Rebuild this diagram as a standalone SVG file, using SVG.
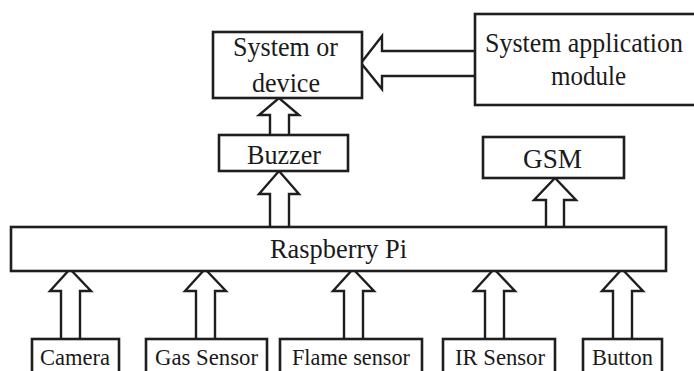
<svg xmlns="http://www.w3.org/2000/svg" width="694" height="371" viewBox="0 0 694 371">
<style>
.box{fill:#fff;stroke:#1e1e1e;stroke-width:2.6}
.arr{fill:#fff;stroke:#1e1e1e;stroke-width:2.4;stroke-linejoin:miter}
.t{font-family:"Liberation Serif","Times New Roman",serif;fill:#1a1a1a}
.big{font-size:28px}
.sm{font-size:24px}
</style>
<rect width="694" height="371" fill="#fff"/>
<g id="connectors">
<path class="arr" d="M475,51 H382 V36 L361,63 L382,89 V76 H475"/>
<path class="arr" d="M270,135 V115 H259 L279,98 L299,115 H289 V135"/>
<path class="arr" d="M270,227 V194 H259 L279,171 L299,194 H289 V227"/>
<path class="arr" d="M546,227 V200 H534 L555,178 L576,200 H564 V227"/>
<path class="arr" d="M61,339 V291 H50 L70,269 L91,291 H80 V339"/>
<path class="arr" d="M196,339 V291 H185 L205,269 L226,291 H215 V339"/>
<path class="arr" d="M344,339 V291 H333 L353,269 L374,291 H363 V339"/>
<path class="arr" d="M485,339 V291 H474 L494,269 L515,291 H504 V339"/>
<path class="arr" d="M613,339 V291 H602 L622,269 L643,291 H632 V339"/>
</g>
<g id="system-device">
<rect class="box" x="213" y="32" width="149" height="66"/>
<text class="t big" x="233" y="56" textLength="105" lengthAdjust="spacingAndGlyphs">System or</text>
<text class="t big" x="252" y="92" textLength="68" lengthAdjust="spacingAndGlyphs">device</text>
</g>
<g id="system-application-module">
<rect class="box" x="475" y="14" width="230" height="91"/>
<text class="t big" x="485" y="52" textLength="198" lengthAdjust="spacingAndGlyphs">System application</text>
<text class="t big" x="551" y="85" textLength="75" lengthAdjust="spacingAndGlyphs">module</text>
</g>
<g id="buzzer">
<rect class="box" x="219" y="135" width="129" height="36"/>
<text class="t big" x="247" y="164" textLength="74" lengthAdjust="spacingAndGlyphs">Buzzer</text>
</g>
<g id="gsm">
<rect class="box" x="483" y="137" width="141" height="41"/>
<text class="t big" x="523" y="168" textLength="59" lengthAdjust="spacingAndGlyphs">GSM</text>
</g>
<g id="raspberry-pi">
<rect class="box" x="11" y="227" width="655" height="44"/>
<text class="t big" x="270" y="258" textLength="137" lengthAdjust="spacingAndGlyphs">Raspberry Pi</text>
</g>
<g id="camera">
<rect class="box" x="32" y="339" width="87" height="45"/>
<text class="t sm" x="40" y="365" textLength="70" lengthAdjust="spacingAndGlyphs">Camera</text>
</g>
<g id="gas-sensor">
<rect class="box" x="146" y="339" width="121" height="45"/>
<text class="t sm" x="155" y="365" textLength="103" lengthAdjust="spacingAndGlyphs">Gas Sensor</text>
</g>
<g id="flame-sensor">
<rect class="box" x="280" y="339" width="142" height="45"/>
<text class="t sm" x="292" y="365" textLength="118" lengthAdjust="spacingAndGlyphs">Flame sensor</text>
</g>
<g id="ir-sensor">
<rect class="box" x="443" y="339" width="112" height="45"/>
<text class="t sm" x="455" y="365" textLength="90" lengthAdjust="spacingAndGlyphs">IR Sensor</text>
</g>
<g id="button">
<rect class="box" x="583" y="339" width="79" height="45"/>
<text class="t sm" x="592" y="365" textLength="61" lengthAdjust="spacingAndGlyphs">Button</text>
</g>
</svg>
